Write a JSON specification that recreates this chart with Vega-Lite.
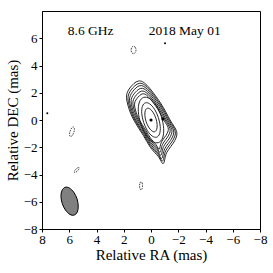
{
  "$schema": "https://vega.github.io/schema/vega-lite/v6.json",
  "width": 218,
  "height": 218,
  "autosize": "none",
  "padding": {"left": 42, "top": 11, "right": 13, "bottom": 44},
  "background": "white",
  "config": {
    "font": "Liberation Serif",
    "view": {"stroke": "black", "strokeWidth": 1},
    "axis": {"grid": false, "domainColor": "black", "tickColor": "black", "tickSize": 3, "labelFont": "Liberation Serif", "labelFontSize": 13, "labelColor": "black", "titleFont": "Liberation Serif", "titleFontSize": 15, "titleFontWeight": "normal", "titleColor": "black"}
  },
  "datasets": {
    "pos": [
      {"c":"p9","i":0,"ra":0.93,"dec":2.86},{"c":"p9","i":1,"ra":1.55,"dec":2.35},{"c":"p9","i":2,"ra":1.80,"dec":1.65},{"c":"p9","i":3,"ra":1.50,"dec":0.50},{"c":"p9","i":4,"ra":1.00,"dec":-0.45},{"c":"p9","i":5,"ra":0.55,"dec":-1.15},{"c":"p9","i":6,"ra":0.05,"dec":-2.00},{"c":"p9","i":7,"ra":-0.55,"dec":-2.70},{"c":"p9","i":8,"ra":-0.90,"dec":-3.20},{"c":"p9","i":9,"ra":-1.15,"dec":-2.40},{"c":"p9","i":10,"ra":-1.75,"dec":-1.50},{"c":"p9","i":11,"ra":-1.88,"dec":-0.85},{"c":"p9","i":12,"ra":-1.40,"dec":0.00},{"c":"p9","i":13,"ra":-0.70,"dec":1.25},{"c":"p9","i":14,"ra":0.30,"dec":2.55},
      {"c":"p8","i":0,"ra":0.87,"dec":2.69},{"c":"p8","i":1,"ra":1.46,"dec":2.21},{"c":"p8","i":2,"ra":1.69,"dec":1.55},{"c":"p8","i":3,"ra":1.41,"dec":0.47},{"c":"p8","i":4,"ra":0.94,"dec":-0.42},{"c":"p8","i":5,"ra":0.52,"dec":-1.08},{"c":"p8","i":6,"ra":0.05,"dec":-1.88},{"c":"p8","i":7,"ra":-0.52,"dec":-2.54},{"c":"p8","i":8,"ra":-0.85,"dec":-3.01},{"c":"p8","i":9,"ra":-1.08,"dec":-2.26},{"c":"p8","i":10,"ra":-1.65,"dec":-1.41},{"c":"p8","i":11,"ra":-1.77,"dec":-0.80},{"c":"p8","i":12,"ra":-1.32,"dec":0.00},{"c":"p8","i":13,"ra":-0.66,"dec":1.18},{"c":"p8","i":14,"ra":0.28,"dec":2.40},
      {"c":"p7","i":0,"ra":0.82,"dec":2.52},{"c":"p7","i":1,"ra":1.36,"dec":2.07},{"c":"p7","i":2,"ra":1.58,"dec":1.45},{"c":"p7","i":3,"ra":1.32,"dec":0.44},{"c":"p7","i":4,"ra":0.88,"dec":-0.40},{"c":"p7","i":5,"ra":0.48,"dec":-1.01},{"c":"p7","i":6,"ra":0.04,"dec":-1.76},{"c":"p7","i":7,"ra":-0.48,"dec":-2.38},{"c":"p7","i":8,"ra":-0.79,"dec":-2.82},{"c":"p7","i":9,"ra":-1.01,"dec":-2.11},{"c":"p7","i":10,"ra":-1.54,"dec":-1.32},{"c":"p7","i":11,"ra":-1.65,"dec":-0.75},{"c":"p7","i":12,"ra":-1.23,"dec":0.00},{"c":"p7","i":13,"ra":-0.62,"dec":1.10},{"c":"p7","i":14,"ra":0.26,"dec":2.24},
      {"c":"p6","i":0,"ra":0.75,"dec":2.32},{"c":"p6","i":1,"ra":1.26,"dec":1.90},{"c":"p6","i":2,"ra":1.46,"dec":1.34},{"c":"p6","i":3,"ra":1.22,"dec":0.41},{"c":"p6","i":4,"ra":0.81,"dec":-0.36},{"c":"p6","i":5,"ra":0.45,"dec":-0.93},{"c":"p6","i":6,"ra":0.04,"dec":-1.62},{"c":"p6","i":7,"ra":-0.45,"dec":-2.19},{"c":"p6","i":8,"ra":-0.73,"dec":-2.59},{"c":"p6","i":9,"ra":-0.93,"dec":-1.94},{"c":"p6","i":10,"ra":-1.42,"dec":-1.22},{"c":"p6","i":11,"ra":-1.52,"dec":-0.69},{"c":"p6","i":12,"ra":-1.13,"dec":0.00},{"c":"p6","i":13,"ra":-0.57,"dec":1.01},{"c":"p6","i":14,"ra":0.24,"dec":2.07},
      {"c":"p5","i":0,"ra":0.69,"dec":2.12},{"c":"p5","i":1,"ra":1.15,"dec":1.74},{"c":"p5","i":2,"ra":1.33,"dec":1.22},{"c":"p5","i":3,"ra":1.11,"dec":0.37},{"c":"p5","i":4,"ra":0.74,"dec":-0.33},{"c":"p5","i":5,"ra":0.41,"dec":-0.85},{"c":"p5","i":6,"ra":0.04,"dec":-1.48},{"c":"p5","i":7,"ra":-0.41,"dec":-2.00},{"c":"p5","i":8,"ra":-0.67,"dec":-2.37},{"c":"p5","i":9,"ra":-0.85,"dec":-1.78},{"c":"p5","i":10,"ra":-1.30,"dec":-1.11},{"c":"p5","i":11,"ra":-1.39,"dec":-0.63},{"c":"p5","i":12,"ra":-1.04,"dec":0.00},{"c":"p5","i":13,"ra":-0.52,"dec":0.93},{"c":"p5","i":14,"ra":0.22,"dec":1.89},
      {"c":"p4","i":0,"ra":0.62,"dec":1.92},{"c":"p4","i":1,"ra":1.04,"dec":1.57},{"c":"p4","i":2,"ra":1.21,"dec":1.11},{"c":"p4","i":3,"ra":1.01,"dec":0.34},{"c":"p4","i":4,"ra":0.67,"dec":-0.30},{"c":"p4","i":5,"ra":0.37,"dec":-0.77},{"c":"p4","i":6,"ra":0.03,"dec":-1.34},{"c":"p4","i":7,"ra":-0.37,"dec":-1.81},{"c":"p4","i":8,"ra":-0.60,"dec":-2.14},{"c":"p4","i":9,"ra":-0.77,"dec":-1.61},{"c":"p4","i":10,"ra":-1.17,"dec":-1.01},{"c":"p4","i":11,"ra":-1.26,"dec":-0.57},{"c":"p4","i":12,"ra":-0.94,"dec":0.00},{"c":"p4","i":13,"ra":-0.47,"dec":0.84},{"c":"p4","i":14,"ra":0.20,"dec":1.71},
      {"c":"p3","i":0,"ra":0.54,"dec":1.66},{"c":"p3","i":1,"ra":0.85,"dec":1.32},{"c":"p3","i":2,"ra":0.93,"dec":0.62},{"c":"p3","i":3,"ra":0.76,"dec":-0.25},{"c":"p3","i":4,"ra":0.39,"dec":-1.05},{"c":"p3","i":5,"ra":-0.09,"dec":-1.56},{"c":"p3","i":6,"ra":-0.54,"dec":-1.66},{"c":"p3","i":7,"ra":-0.85,"dec":-1.32},{"c":"p3","i":8,"ra":-0.93,"dec":-0.62},{"c":"p3","i":9,"ra":-0.76,"dec":0.25},{"c":"p3","i":10,"ra":-0.39,"dec":1.05},{"c":"p3","i":11,"ra":0.09,"dec":1.56},
      {"c":"p2","i":0,"ra":0.41,"dec":1.26},{"c":"p2","i":1,"ra":0.63,"dec":1.01},{"c":"p2","i":2,"ra":0.68,"dec":0.48},{"c":"p2","i":3,"ra":0.54,"dec":-0.18},{"c":"p2","i":4,"ra":0.26,"dec":-0.79},{"c":"p2","i":5,"ra":-0.09,"dec":-1.18},{"c":"p2","i":6,"ra":-0.41,"dec":-1.26},{"c":"p2","i":7,"ra":-0.63,"dec":-1.01},{"c":"p2","i":8,"ra":-0.68,"dec":-0.48},{"c":"p2","i":9,"ra":-0.54,"dec":0.18},{"c":"p2","i":10,"ra":-0.26,"dec":0.79},{"c":"p2","i":11,"ra":0.09,"dec":1.18},
      {"c":"p1","i":0,"ra":0.28,"dec":0.86},{"c":"p1","i":1,"ra":0.42,"dec":0.68},{"c":"p1","i":2,"ra":0.45,"dec":0.33},{"c":"p1","i":3,"ra":0.36,"dec":-0.12},{"c":"p1","i":4,"ra":0.17,"dec":-0.53},{"c":"p1","i":5,"ra":-0.06,"dec":-0.80},{"c":"p1","i":6,"ra":-0.28,"dec":-0.86},{"c":"p1","i":7,"ra":-0.42,"dec":-0.68},{"c":"p1","i":8,"ra":-0.45,"dec":-0.33},{"c":"p1","i":9,"ra":-0.36,"dec":0.12},{"c":"p1","i":10,"ra":-0.17,"dec":0.53},{"c":"p1","i":11,"ra":0.06,"dec":0.80}
    ],
    "neg": [
      {"c":"n1","i":0,"ra":1.28,"dec":5.41},{"c":"n1","i":1,"ra":1.15,"dec":5.33},{"c":"n1","i":2,"ra":1.10,"dec":5.14},{"c":"n1","i":3,"ra":1.15,"dec":4.95},{"c":"n1","i":4,"ra":1.28,"dec":4.87},{"c":"n1","i":5,"ra":1.41,"dec":4.95},{"c":"n1","i":6,"ra":1.46,"dec":5.14},{"c":"n1","i":7,"ra":1.41,"dec":5.33},
      {"c":"n2","i":0,"ra":5.69,"dec":-0.51},{"c":"n2","i":1,"ra":5.82,"dec":-0.58},{"c":"n2","i":2,"ra":5.94,"dec":-0.82},{"c":"n2","i":3,"ra":5.98,"dec":-1.08},{"c":"n2","i":4,"ra":5.91,"dec":-1.21},{"c":"n2","i":5,"ra":5.78,"dec":-1.14},{"c":"n2","i":6,"ra":5.66,"dec":-0.90},{"c":"n2","i":7,"ra":5.62,"dec":-0.64},
      {"c":"n3","i":0,"ra":5.28,"dec":-3.50},{"c":"n3","i":1,"ra":5.38,"dec":-3.51},{"c":"n3","i":2,"ra":5.51,"dec":-3.61},{"c":"n3","i":3,"ra":5.62,"dec":-3.75},{"c":"n3","i":4,"ra":5.62,"dec":-3.84},{"c":"n3","i":5,"ra":5.53,"dec":-3.84},{"c":"n3","i":6,"ra":5.39,"dec":-3.73},{"c":"n3","i":7,"ra":5.29,"dec":-3.60},
      {"c":"n4","i":0,"ra":0.73,"dec":-4.53},{"c":"n4","i":1,"ra":0.65,"dec":-4.62},{"c":"n4","i":2,"ra":0.62,"dec":-4.83},{"c":"n4","i":3,"ra":0.65,"dec":-5.04},{"c":"n4","i":4,"ra":0.73,"dec":-5.13},{"c":"n4","i":5,"ra":0.81,"dec":-5.04},{"c":"n4","i":6,"ra":0.84,"dec":-4.83},{"c":"n4","i":7,"ra":0.81,"dec":-4.62}
    ],
    "beam": [
      {"i":0,"ra":6.30,"dec":-4.94},{"i":1,"ra":6.53,"dec":-5.17},{"i":2,"ra":6.61,"dec":-5.61},{"i":3,"ra":6.51,"dec":-6.14},{"i":4,"ra":6.27,"dec":-6.62},{"i":5,"ra":5.95,"dec":-6.93},{"i":6,"ra":5.64,"dec":-6.98},{"i":7,"ra":5.41,"dec":-6.75},{"i":8,"ra":5.34,"dec":-6.32},{"i":9,"ra":5.43,"dec":-5.78},{"i":10,"ra":5.67,"dec":-5.30},{"i":11,"ra":5.99,"dec":-4.99}
    ],
    "dots": [
      {"k":"comp","ra":0.0,"dec":0.0},
      {"k":"comp","ra":-0.88,"dec":0.08},
      {"k":"spot","ra":-1.03,"dec":5.63},
      {"k":"spot","ra":7.61,"dec":0.49}
    ],
    "labels": [
      {"t":"8.6 GHz","ra":4.43,"dec":6.5},
      {"t":"2018 May 01","ra":-2.47,"dec":6.5}
    ]
  },
  "encoding": {
    "x": {"field":"ra","type":"quantitative","scale":{"domain":[8,-8],"nice":false,"zero":false},"axis":{"values":[8,6,4,2,0,-2,-4,-6,-8],"title":"Relative RA (mas)","labelPadding":1,"titlePadding":1,"labelFlush":false}},
    "y": {"field":"dec","type":"quantitative","scale":{"domain":[-8,8],"nice":false,"zero":false},"axis":{"values":[-8,-6,-4,-2,0,2,4,6],"title":"Relative DEC (mas)","labelPadding":2,"titlePadding":3,"labelFlush":false}}
  },
  "layer": [
    {
      "data": {"name":"beam"},
      "mark": {"type":"line","interpolate":"cardinal-closed","fill":"#808080","stroke":"black","strokeWidth":1},
      "encoding": {"order":{"field":"i","type":"quantitative"}}
    },
    {
      "data": {"name":"pos"},
      "mark": {"type":"line","interpolate":"cardinal-closed","color":"#111111","strokeWidth":0.9},
      "encoding": {"detail":{"field":"c"},"order":{"field":"i","type":"quantitative"}}
    },
    {
      "data": {"name":"neg"},
      "mark": {"type":"line","interpolate":"cardinal-closed","color":"#111111","strokeWidth":0.8,"strokeDash":[1.5,1]},
      "encoding": {"detail":{"field":"c"},"order":{"field":"i","type":"quantitative"}}
    },
    {
      "data": {"name":"dots"},
      "transform": [{"filter":"datum.k === 'comp'"}],
      "mark": {"type":"point","filled":true,"shape":"circle","color":"black","size":10,"opacity":1}
    },
    {
      "data": {"name":"dots"},
      "transform": [{"filter":"datum.k === 'spot'"}],
      "mark": {"type":"point","filled":true,"shape":"circle","color":"black","size":4,"opacity":1}
    },
    {
      "data": {"name":"labels"},
      "mark": {"type":"text","font":"Liberation Serif","fontSize":13.5,"color":"black","align":"center","baseline":"middle"},
      "encoding": {"text":{"field":"t"}}
    }
  ]
}
